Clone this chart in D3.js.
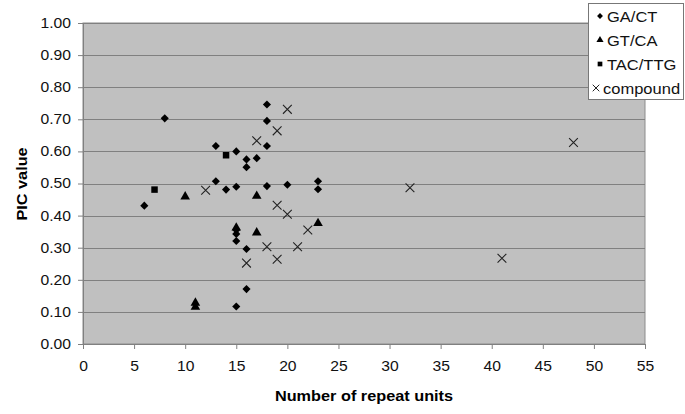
<!DOCTYPE html>
<html>
<head>
<meta charset="utf-8">
<script src="https://cdn.jsdelivr.net/npm/d3@7"></script>
<style>
  body { margin: 0; background: white; }
  text { font-family: "Liberation Sans", Arial, sans-serif; }
</style>
</head>
<body>
<svg id="chart" width="685" height="414"></svg>
<script>
// ------- Data -------
const seriesNames = ["GA/CT", "GT/CA", "TAC/TTG", "compound"];

const gaCt = [
  [6, 0.431], [8, 0.703], [13, 0.617], [13, 0.507], [14, 0.481],
  [15, 0.600], [15, 0.490], [15, 0.355], [15, 0.343], [15, 0.321],
  [15, 0.117], [16, 0.575], [16, 0.551], [16, 0.296], [16, 0.171],
  [17, 0.579], [18, 0.746], [18, 0.695], [18, 0.617], [18, 0.492],
  [20, 0.496], [23, 0.507], [23, 0.482]
];
const gtCa = [
  [10, 0.459], [11, 0.128], [11, 0.115], [15, 0.362], [17, 0.461],
  [17, 0.347], [23, 0.376]
];
const tacTtg = [
  [7, 0.481], [14, 0.588]
];
const compound = [
  [12, 0.479], [16, 0.252], [17, 0.633], [18, 0.303], [19, 0.664],
  [19, 0.432], [19, 0.264], [20, 0.731], [20, 0.404], [21, 0.303],
  [22, 0.355], [32, 0.487], [41, 0.267], [48, 0.628]
];

const xTicks = d3.range(0, 56, 5);
const yTicks = d3.range(0, 1.0001, 0.1);

const svg = d3.select("#chart");
const margin = { top: 23, right: 40, bottom: 70, left: 83 };
const plotW = 645 - margin.left;
const plotH = 344 - margin.top;

const x = d3.scaleLinear().domain([0, 55]).range([0, plotW]);
const y = d3.scaleLinear().domain([0, 1]).range([plotH, 0]);

// the original text looks a bit wider than Arial, stretch it a little
function stretch(sel, k) {
  sel.each(function () {
    const w = this.getComputedTextLength();
    d3.select(this)
      .attr("textLength", w * k)
      .attr("lengthAdjust", "spacingAndGlyphs");
  });
}

const g = svg.append("g")
  .attr("transform", "translate(" + margin.left + "," + margin.top + ")");

// plot background
g.append("rect")
  .attr("x", 0).attr("y", 0)
  .attr("width", plotW).attr("height", plotH)
  .attr("fill", "#c0c0c0")
  .attr("stroke", "#8c8c8c")
  .attr("stroke-width", 1);

// gridlines
g.selectAll(".grid")
  .data(yTicks.slice(1))
  .enter()
  .append("line")
  .attr("class", "grid")
  .attr("x1", 0).attr("x2", plotW)
  .attr("y1", d => Math.round(y(d)) + 0.5)
  .attr("y2", d => Math.round(y(d)) + 0.5)
  .attr("stroke", "#808080")
  .attr("stroke-width", 1);

// axes
const yAxis = d3.axisLeft(y).tickValues(yTicks).tickFormat(d3.format(".2f")).tickSizeOuter(0).tickSize(5).tickPadding(7);
const xAxis = d3.axisBottom(x).tickValues(xTicks).tickSizeOuter(0).tickSize(5).tickPadding(12);

const ya = g.append("g").call(yAxis);
const xa = g.append("g").attr("transform", "translate(0," + plotH + ")").call(xAxis);

[ya, xa].forEach(a => {
  a.selectAll("path").attr("stroke", "#808080");
  a.selectAll("line").attr("stroke", "#808080");
  a.selectAll("text").attr("font-size", "14px").attr("fill", "#111");
  stretch(a.selectAll("text"), 1.12);
});

// axis titles
const xTitle = svg.append("text")
  .attr("x", 364).attr("y", 401)
  .attr("text-anchor", "middle")
  .attr("font-size", "15.5px")
  .attr("font-weight", "bold")
  .text("Number of repeat units");
stretch(xTitle, 1.05);

const yTitle = svg.append("text")
  .attr("transform", "translate(27,184) rotate(-90)")
  .attr("text-anchor", "middle")
  .attr("font-size", "15.5px")
  .attr("font-weight", "bold")
  .text("PIC value");
stretch(yTitle, 1.05);

// ------- Markers -------
const diamond = d3.symbol().type(d3.symbolDiamond2).size(42);
const triangle = d3.symbol().type(d3.symbolTriangle).size(40);
const square = d3.symbol().type(d3.symbolSquare).size(42);
const cross = d3.symbol().type(d3.symbolX).size(52);

function drawSeries(data, sym, isCross) {
  g.append("g").selectAll("path")
    .data(data)
    .enter()
    .append("path")
    .attr("d", sym)
    .attr("transform", d => "translate(" + x(d[0]) + "," + y(d[1]) + ")")
    .attr("fill", isCross ? "none" : "#000")
    .attr("stroke", isCross ? "#222" : "none")
    .attr("stroke-width", 1.1);
}

drawSeries(gaCt, diamond, false);
drawSeries(gtCa, triangle, false);
drawSeries(tacTtg, square, false);
drawSeries(compound, cross, true);

// ------- Legend -------
const legend = svg.append("g").attr("transform", "translate(588,3)");
legend.append("rect")
  .attr("x", 0.5).attr("y", 0.5)
  .attr("width", 95).attr("height", 96)
  .attr("fill", "white")
  .attr("stroke", "#777");

const legendSyms = [
  d3.symbol().type(d3.symbolDiamond2).size(22),
  d3.symbol().type(d3.symbolTriangle).size(22),
  d3.symbol().type(d3.symbolSquare).size(22),
  d3.symbol().type(d3.symbolX).size(30)
];

seriesNames.forEach((name, i) => {
  const cy = 13 + i * 24;
  legend.append("path")
    .attr("d", legendSyms[i])
    .attr("transform", "translate(" + (i === 3 ? 8 : 12) + "," + cy + ")")
    .attr("fill", i === 3 ? "none" : "#000")
    .attr("stroke", i === 3 ? "#222" : "none")
    .attr("stroke-width", 1);
  const t = legend.append("text")
    .attr("x", i === 3 ? 15 : 19).attr("y", cy + 5.5)
    .attr("font-size", "15px")
    .attr("fill", "#111")
    .text(name);
  stretch(t, 1.1);
});
</script>
</body>
</html>
